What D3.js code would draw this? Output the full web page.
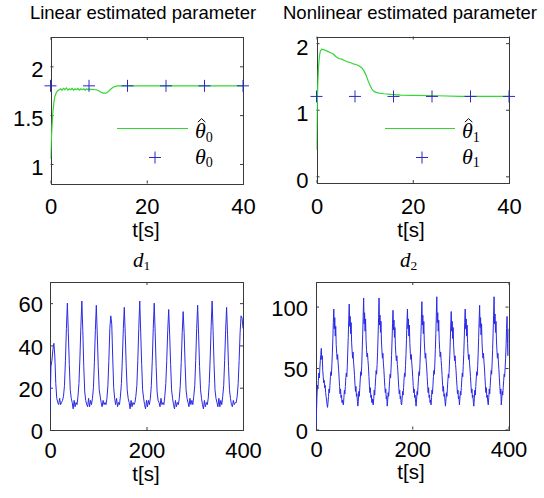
<!DOCTYPE html>
<html>
<head>
<meta charset="utf-8">
<script src="https://cdn.jsdelivr.net/npm/d3@7"></script>
<style>
  html, body { margin: 0; padding: 0; background: #fff; }
  svg { display: block; }
</style>
</head>
<body>
<svg id="fig" width="544" height="498"></svg>
<script>
// ---------- data ----------
// Linear estimated parameter: estimate over time and true value
const thetaHat0T = [0, 0.15, 0.3, 0.5, 0.7, 0.9, 1.2, 1.5, 1.8, 2.1, 2.4, 2.7, 3.0, 3.3, 3.6, 3.9, 4.2, 4.5, 4.8, 5.1, 5.4, 5.7, 6.0, 6.3, 6.6, 6.9, 7.2, 7.5, 7.8, 8.1, 8.4, 8.7, 9.0, 9.5, 10.0, 10.5, 11.0, 11.5, 12.0, 12.5, 13.0, 13.5, 14.0, 16, 40];
const thetaHat0V = [1.05, 1.22, 1.38, 1.53, 1.63, 1.69, 1.73, 1.75, 1.76, 1.77, 1.755, 1.775, 1.76, 1.78, 1.755, 1.77, 1.76, 1.775, 1.755, 1.77, 1.76, 1.775, 1.755, 1.77, 1.76, 1.77, 1.755, 1.77, 1.76, 1.77, 1.76, 1.765, 1.76, 1.76, 1.75, 1.735, 1.725, 1.725, 1.74, 1.765, 1.785, 1.795, 1.8, 1.8, 1.8];
const theta0 = 1.8;

// Nonlinear estimated parameter
const thetaHat1T = [0, 0.1, 0.25, 0.4, 0.6, 0.8, 1.1, 1.6, 2.2, 2.8, 3.4, 4.0, 4.6, 5.2, 5.8, 6.4, 7.0, 7.6, 8.2, 8.8, 9.4, 9.9, 10.3, 10.7, 11.1, 11.5, 11.9, 12.4, 13.0, 14.0, 15.5, 17.5, 20, 25, 30, 40];
const thetaHat1V = [0.4, 0.9, 1.35, 1.62, 1.8, 1.88, 1.91, 1.9, 1.88, 1.86, 1.84, 1.8, 1.77, 1.76, 1.74, 1.72, 1.71, 1.69, 1.68, 1.66, 1.63, 1.58, 1.52, 1.44, 1.37, 1.31, 1.28, 1.26, 1.25, 1.24, 1.23, 1.22, 1.215, 1.21, 1.2, 1.2];
const theta1 = 1.2;

// times at which the true-value markers are drawn
const markerT = [0, 8, 16, 24, 32, 40];

// d1, sampled every 2 s from 0 to 400 s
const d1Step = 2;
const d1 = [
  9, 30, 33, 38, 41, 35, 22, 15, 13, 12, 15, 12, 13, 14,
  16, 21, 33, 48, 60, 46, 31, 19, 15, 13, 10, 14, 11, 13, 12,
  16, 22, 34, 49, 61, 47, 30, 18, 14, 12, 11, 15, 11, 14, 12,
  15, 20, 32, 47, 59, 45, 30, 19, 16, 13, 11, 14, 12, 13, 12,
  15, 21, 33, 48, 54, 50, 34, 20, 15, 12, 15, 11, 13, 12,
  16, 22, 34, 48, 58, 45, 30, 19, 15, 13, 10, 14, 11, 13, 12, 13,
  16, 21, 33, 48, 61, 46, 31, 19, 15, 12, 10, 14, 11, 14, 12,
  15, 21, 33, 48, 60, 46, 30, 18, 14, 13, 11, 15, 12, 13, 12,
  16, 22, 33, 47, 57, 45, 31, 19, 15, 12, 10, 14, 11, 13, 12,
  15, 21, 32, 46, 56, 46, 31, 19, 15, 13, 11, 15, 12, 14, 12,
  16, 21, 33, 48, 59, 45, 30, 19, 15, 12, 10, 14, 11, 13, 12,
  15, 22, 34, 49, 61, 47, 31, 19, 15, 13, 11, 15, 11, 14, 12,
  16, 21, 33, 47, 58, 45, 30, 19, 15, 12, 11, 14, 12, 13, 13,
  16, 22, 33, 46, 54, 53, 48
];

// d2, sampled every 1 s from 0 to 400 s
const d2Step = 1;
const d2 = [
  0, 14, 27, 36, 33, 40, 46, 42, 50, 56, 61, 66, 57, 60, 48, 43, 38, 40, 34, 36, 30, 27, 24, 20, 18,
  22, 27, 33, 30, 36, 43, 47, 44, 53, 62, 74, 87, 98, 82, 91, 76, 84, 69, 62, 57, 61, 54, 49, 42, 35, 29, 33, 26, 28, 22, 24, 21,
  20, 26, 32, 29, 35, 42, 46, 43, 51, 63, 75, 89, 102, 84, 92, 78, 87, 71, 64, 58, 63, 55, 50, 44, 37, 31, 35, 27, 29, 23,
  19, 24, 31, 27, 34, 41, 47, 44, 52, 64, 77, 92, 107, 86, 95, 80, 90, 73, 65, 59, 62, 56, 51, 43, 36, 30, 34, 26, 28, 22, 25, 21,
  20, 25, 32, 28, 35, 42, 48, 45, 53, 63, 76, 91, 107, 85, 93, 79, 88, 72, 64, 58, 62, 54, 49, 42, 35, 30, 33, 25, 27,
  19, 24, 30, 27, 33, 40, 45, 42, 50, 60, 72, 86, 97, 81, 89, 75, 83, 68, 61, 56, 60, 53, 48, 41, 34, 29, 32, 25, 27, 21,
  20, 25, 31, 28, 34, 41, 46, 43, 52, 61, 73, 87, 98, 82, 90, 76, 85, 70, 62, 57, 61, 54, 49, 43, 36, 30, 33, 26, 28, 22,
  19, 24, 31, 28, 35, 42, 47, 44, 53, 63, 76, 90, 104, 85, 93, 78, 88, 72, 64, 58, 62, 55, 50, 43, 36, 30, 34, 26, 28, 22, 24,
  20, 26, 32, 29, 36, 43, 48, 45, 54, 65, 78, 93, 108, 87, 95, 80, 89, 73, 65, 59, 63, 56, 51, 44, 37, 31, 35, 27, 29, 23,
  19, 24, 30, 27, 33, 40, 45, 42, 51, 60, 72, 85, 96, 80, 88, 74, 83, 68, 61, 56, 60, 53, 48, 41, 35, 29, 32, 25, 27,
  20, 25, 31, 28, 34, 41, 46, 43, 52, 61, 73, 87, 98, 82, 90, 76, 85, 70, 62, 57, 61, 54, 49, 43, 36, 30, 33, 26, 28, 22,
  19, 25, 32, 28, 35, 42, 47, 44, 52, 62, 75, 89, 101, 83, 91, 77, 86, 71, 63, 58, 62, 55, 50, 43, 36, 30, 34, 26, 28, 22,
  20, 26, 33, 29, 36, 43, 48, 45, 54, 65, 78, 93, 108, 86, 94, 79, 88, 72, 64, 58, 62, 55, 49, 42, 35, 29, 33,
  20, 25, 31, 28, 34, 40, 45, 43, 50, 58, 69, 82, 92, 70, 60, 82
];

// tick values
const xTicksShort = [0, 20, 40];
const xTicksLong = [0, 200, 400];
const yTicks0 = [1, 1.5, 2];
const yTicks1 = [0, 1, 2];
const yTicksD1 = [0, 20, 40, 60];
const yTicksD2 = [0, 50, 100];

// ---------- styles ----------
const SANS = "'Liberation Sans', Arial, Helvetica, sans-serif";
const SERIF = "'Liberation Serif', 'Times New Roman', serif";
const GREEN = "#35d535";
const BLUE = "#2a2ae6";
const MARK = "#2b2bc4";
const BOX = "#3a3a3a";

const svg = d3.select("#fig");
const zip = (t, v) => t.map((ti, i) => [ti, v[i]]);
const sampled = (vals, step) => vals.map((v, i) => [i * step, v]);

function panel(cfg) {
  const [x0, x1, y0, y1] = cfg.box;
  const x = d3.scaleLinear().domain(cfg.xDomain).range([x0, x1]);
  const y = d3.scaleLinear().domain(cfg.yDomain).range([y1, y0]);
  const g = svg.append("g");

  const clipId = "clip-" + cfg.id;
  svg.append("clipPath").attr("id", clipId)
    .append("rect").attr("x", x0).attr("y", y0).attr("width", x1 - x0).attr("height", y1 - y0);

  const fmt = d3.format("~g");
  const styleAxis = sel => {
    sel.select(".domain").remove();
    sel.selectAll(".tick line").attr("stroke", BOX).attr("stroke-width", 1);
    sel.selectAll("text").attr("font-family", SANS).attr("font-size", 22).attr("fill", "#000");
  };

  // bottom / left axes with labels, top / right mirrored ticks
  g.append("g").attr("transform", `translate(0,${y1})`)
    .call(d3.axisBottom(x).tickValues(cfg.xTicks).tickSize(-3).tickSizeOuter(0).tickFormat(fmt))
    .call(styleAxis)
    .call(s => s.selectAll("text").attr("y", 0).attr("dy", cfg.xBase));
  g.append("g").attr("transform", `translate(0,${y0})`)
    .call(d3.axisTop(x).tickValues(cfg.xTicks).tickSize(-3).tickSizeOuter(0).tickFormat(""))
    .call(styleAxis);
  g.append("g").attr("transform", `translate(${x0},0)`)
    .call(d3.axisLeft(y).tickValues(cfg.yTicks).tickSize(-3).tickSizeOuter(0).tickFormat(fmt))
    .call(styleAxis)
    .call(s => s.selectAll("text").attr("x", -cfg.yGap).attr("dy", cfg.yBase));
  g.append("g").attr("transform", `translate(${x1},0)`)
    .call(d3.axisRight(y).tickValues(cfg.yTicks).tickSize(-3).tickSizeOuter(0).tickFormat(""))
    .call(styleAxis);

  // frame
  g.append("rect")
    .attr("x", Math.round(x0) + 0.5).attr("y", Math.round(y0) + 0.5)
    .attr("width", Math.round(x1) - Math.round(x0)).attr("height", Math.round(y1) - Math.round(y0))
    .attr("fill", "none").attr("stroke", BOX).attr("stroke-width", 1);

  // series
  const line = d3.line().x(d => x(d[0])).y(d => y(d[1]));
  const plot = g.append("g").attr("clip-path", `url(#${clipId})`);
  cfg.lines.forEach(s => {
    plot.append("path").datum(s.data)
      .attr("d", line).attr("fill", "none")
      .attr("stroke", s.color).attr("stroke-width", s.width)
      .attr("stroke-linejoin", "round");
  });
  if (cfg.markers) {
    const m = cfg.markers, r = 6;
    g.append("g").selectAll("path").data(m.t).join("path")
      .attr("d", t => `M${x(t) - r},${y(m.value)}h${2 * r}M${x(t)},${y(m.value) - r}v${2 * r}`)
      .attr("stroke", MARK).attr("stroke-width", 1).attr("fill", "none");
  }

  // x-axis label
  g.append("text").attr("x", cfg.xLabelX).attr("y", cfg.xLabelY)
    .attr("text-anchor", "middle").attr("font-family", SANS).attr("font-size", 20.5)
    .text("t[s]");

  return { x, y, g };
}

// italic math symbol with a subscript; the estimate's hat is a small
// circumflex accent stroked over the symbol
function mathLabel(x, y, sym, sub, size, hat) {
  const t = svg.append("text").attr("x", x).attr("y", y)
    .attr("font-family", SERIF).attr("font-size", size);
  t.append("tspan").attr("font-style", "italic").text(sym);
  t.append("tspan").attr("font-size", size * 0.64).attr("dy", size * 0.17).text(sub);
  if (hat) {
    const cx = x + size * 0.3, w = size * 0.17;
    svg.append("path")
      .attr("d", `M${cx - w},${y - size * 0.72}L${cx},${y - size * 0.88}L${cx + w},${y - size * 0.72}`)
      .attr("fill", "none").attr("stroke", "#000").attr("stroke-width", 1)
      .attr("stroke-linejoin", "miter");
  }
}

function legend(lx0, lx1, ly, mx, my, tx, sub) {
  svg.append("line").attr("x1", lx0).attr("x2", lx1).attr("y1", ly).attr("y2", ly)
    .attr("stroke", GREEN).attr("stroke-width", 1.2);
  svg.append("path").attr("d", `M${mx - 6},${my}h12M${mx},${my - 6}v12`)
    .attr("stroke", MARK).attr("stroke-width", 1);
  mathLabel(tx, ly + 9.5, "\u03B8", sub, 22, true);
  mathLabel(tx, my + 6, "\u03B8", sub, 22, false);
}

// ---------- panels ----------
panel({
  id: "lin", box: [50.5, 243, 37, 183.5], xDomain: [0, 40], yDomain: [0.8, 2.3],
  xTicks: xTicksShort, yTicks: yTicks0, xBase: 30.5, yBase: 10.5, yGap: 7,
  xLabelX: 146, xLabelY: 236.5,
  lines: [{ data: zip(thetaHat0T, thetaHat0V), color: GREEN, width: 1.2 }],
  markers: { t: markerT, value: theta0 }
});
panel({
  id: "nonlin", box: [316.5, 509, 36.5, 183], xDomain: [0, 40], yDomain: [-0.1, 2.1],
  xTicks: xTicksShort, yTicks: yTicks1, xBase: 30.5, yBase: 11, yGap: 8,
  xLabelX: 411, xLabelY: 236.5,
  lines: [{ data: zip(thetaHat1T, thetaHat1V), color: GREEN, width: 1.2 }],
  markers: { t: markerT, value: theta1 }
});
panel({
  id: "d1", box: [50, 243, 282, 430], xDomain: [0, 400], yDomain: [0, 70],
  xTicks: xTicksLong, yTicks: yTicksD1, xBase: 28, yBase: 8.7, yGap: 7,
  xLabelX: 146, xLabelY: 481,
  lines: [{ data: sampled(d1, d1Step), color: BLUE, width: 1 }]
});
panel({
  id: "d2", box: [316, 508.5, 282, 429.5], xDomain: [0, 400], yDomain: [0, 120],
  xTicks: xTicksLong, yTicks: yTicksD2, xBase: 27, yBase: 8.5, yGap: 8,
  xLabelX: 411, xLabelY: 479,
  lines: [{ data: sampled(d2, d2Step), color: BLUE, width: 1 }]
});

// legends
legend(117, 188, 128.5, 155, 157.5, 195, "0");
legend(385, 455, 128.5, 422, 157.5, 462, "1");

// titles
svg.append("text").attr("x", 143).attr("y", 18.5).attr("text-anchor", "middle")
  .attr("font-family", SANS).attr("font-size", 18.5).text("Linear estimated parameter");
svg.append("text").attr("x", 410).attr("y", 18.5).attr("text-anchor", "middle")
  .attr("font-family", SANS).attr("font-size", 18.5).text("Nonlinear estimated parameter");
mathLabel(133, 266.5, "d", "1", 21, false);
mathLabel(400, 266.5, "d", "2", 21, false);
</script>
</body>
</html>
